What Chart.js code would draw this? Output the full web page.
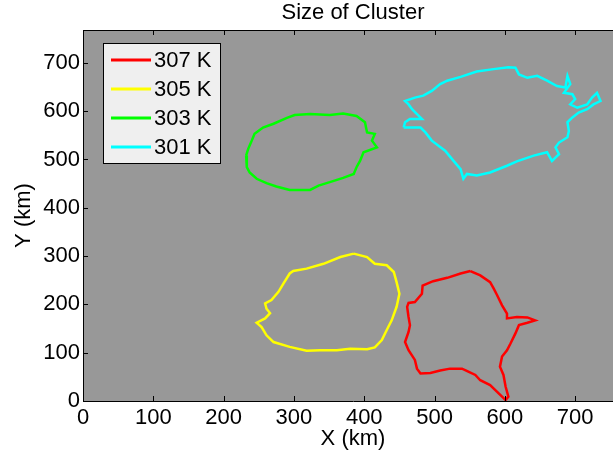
<!DOCTYPE html>
<html>
<head>
<meta charset="utf-8">
<title>Size of Cluster</title>
<script src="https://cdn.jsdelivr.net/npm/chart.js@4"></script>
<style>
  body { margin: 0; overflow: hidden; background: #fff; }
  canvas { display: block; }
</style>
</head>
<body>
<canvas id="clusterChart" width="640" height="461"></canvas>
<script>
// cluster outlines (km), one closed contour per temperature threshold
const seriesLabels = ['307 K', '305 K', '303 K', '301 K'];
const seriesColors = ['#ff0000', '#ffff00', '#00ff00', '#00ffff'];
const tickValues = [0, 100, 200, 300, 400, 500, 600, 700];
const chartTitle = 'Size of Cluster';

const x307 = [551, 565, 579, 584, 589, 596, 603, 603, 617, 632, 643, 632, 620, 615, 608, 603, 596, 593, 598, 601,
              605, 601, 596, 589, 579, 565, 558, 548, 539, 522, 508, 494, 480, 475, 472, 463, 458, 463, 465, 463,
              461, 463, 472, 482, 483, 498, 518, 537];
const y307 = [269, 260, 246, 233, 219, 198, 181, 171, 174, 173, 167, 162, 157, 140, 119, 105, 92, 71, 54, 30,
              9, 2, 9, 19, 33, 43, 54, 61, 67, 67, 63, 58, 57, 67, 85, 105, 122, 143, 157, 174,
              195, 203, 205, 222, 239, 248, 255, 264];

const x305 = [385, 404, 415, 432, 442, 446, 450, 446, 439, 432, 425, 415, 404, 380, 361, 337, 318, 294, 271, 261,
              254, 247, 259, 266, 261, 259, 268, 278, 285, 294, 299, 318, 342, 366];
const y305 = [305, 298, 284, 281, 267, 246, 222, 195, 167, 147, 126, 111, 107, 108, 105, 105, 104, 112, 122, 136,
              153, 162, 171, 182, 191, 202, 209, 226, 243, 264, 269, 274, 284, 298];

const x303 = [232, 233, 237, 247, 261, 275, 294, 323, 335, 351, 370, 385, 389, 394, 399, 418, 411, 415, 404, 401,
              389, 370, 351, 323, 301, 290, 271, 256, 244, 240, 235];
const y303 = [508, 484, 473, 460, 451, 444, 437, 437, 446, 453, 462, 470, 484, 497, 515, 525, 539, 553, 556, 577,
              590, 595, 592, 594, 592, 586, 574, 566, 553, 539, 522];

const x301 = [456, 458, 465, 482, 475, 468, 463, 458, 472, 484, 496, 508, 518, 537, 560, 584, 605, 615, 620, 632,
              646, 660, 674, 686, 689, 693, 684, 696, 700, 693, 703, 717, 724, 731, 736, 726, 717, 705, 696, 689,
              691, 689, 677, 672, 677, 667, 660, 641, 617, 603, 579, 560, 546, 541, 537, 527, 515, 496, 487, 480,
              465];
const y301 = [566, 577, 584, 584, 594, 604, 614, 621, 628, 632, 642, 656, 663, 671, 682, 687, 691, 690, 676, 669,
              673, 663, 652, 649, 673, 656, 638, 635, 625, 614, 607, 614, 628, 638, 621, 614, 604, 597, 587, 577,
              559, 546, 535, 525, 511, 497, 515, 508, 496, 487, 473, 467, 470, 460, 480, 497, 518, 539, 556, 566,
              566];

const FONT = '"Liberation Sans", Helvetica, Arial, sans-serif';

// pair up x/y and close the loop
function contour(xs, ys) {
    const pts = xs.map((x, i) => ({ x: x, y: ys[i] }));
    pts.push({ x: xs[0], y: ys[0] });
    return pts;
}

const outlines = [[x307, y307], [x305, y305], [x303, y303], [x301, y301]];

const datasets = outlines.map((o, i) => ({
    label: seriesLabels[i],
    data: contour(o[0], o[1]),
    showLine: true,
    borderColor: seriesColors[i],
    borderWidth: 2.5,
    pointRadius: 0,
    tension: 0
}));

// gray axes background
const plotBackground = {
    id: 'plotBackground',
    beforeDraw(chart) {
        const { ctx, chartArea: a } = chart;
        ctx.save();
        ctx.fillStyle = '#989898';
        ctx.fillRect(a.left, a.top, a.right - a.left, a.bottom - a.top);
        ctx.restore();
    }
};

// top frame line and inward tick marks
const innerTicks = {
    id: 'innerTicks',
    afterDatasetsDraw(chart) {
        const { ctx, chartArea: a, scales } = chart;
        ctx.save();
        ctx.strokeStyle = '#000';
        ctx.lineWidth = 1;
        ctx.beginPath();
        ctx.moveTo(a.left, Math.round(a.top) + 0.5);
        ctx.lineTo(a.right, Math.round(a.top) + 0.5);
        ctx.moveTo(Math.round(a.right) - 0.5, a.top);
        ctx.lineTo(Math.round(a.right) - 0.5, a.bottom);
        scales.x.ticks.forEach(t => {
            const px = Math.round(scales.x.getPixelForValue(t.value)) + 0.5;
            ctx.moveTo(px, a.bottom);
            ctx.lineTo(px, a.bottom - 5);
            ctx.moveTo(px, a.top);
            ctx.lineTo(px, a.top + 5);
        });
        scales.y.ticks.forEach(t => {
            const py = Math.round(scales.y.getPixelForValue(t.value)) + 0.5;
            ctx.moveTo(a.left, py);
            ctx.lineTo(a.left + 5, py);
            ctx.moveTo(a.right, py);
            ctx.lineTo(a.right - 5, py);
        });
        ctx.stroke();
        ctx.restore();
    }
};

// legend box in the upper left corner of the axes
const legendBox = {
    id: 'legendBox',
    afterDraw(chart) {
        const { ctx, chartArea: a } = chart;
        const x0 = Math.round(a.left) + 20, y0 = Math.round(a.top) + 13;
        const w = 117, h = 120;
        ctx.save();
        ctx.fillStyle = '#efefef';
        ctx.fillRect(x0, y0, w, h);
        ctx.strokeStyle = '#000';
        ctx.lineWidth = 1;
        ctx.strokeRect(x0 + 0.5, y0 + 0.5, w, h);
        ctx.font = '22px ' + FONT;
        ctx.textBaseline = 'middle';
        chart.data.datasets.forEach((ds, i) => {
            const y = y0 + 17 + i * 29;
            ctx.strokeStyle = ds.borderColor;
            ctx.lineWidth = 3;
            ctx.beginPath();
            ctx.moveTo(x0 + 8, y);
            ctx.lineTo(x0 + 48, y);
            ctx.stroke();
            ctx.fillStyle = '#000';
            ctx.fillText(ds.label, x0 + 51, y + 1);
        });
        ctx.restore();
    }
};

// title centred over the axes
const axesTitle = {
    id: 'axesTitle',
    afterDraw(chart) {
        const { ctx, chartArea: a } = chart;
        ctx.save();
        ctx.font = '22px ' + FONT;
        ctx.fillStyle = '#000';
        ctx.textAlign = 'center';
        ctx.textBaseline = 'alphabetic';
        ctx.fillText(chartTitle, (a.left + a.right) / 2, 19);
        ctx.restore();
    }
};

const ctx = document.getElementById('clusterChart').getContext('2d');
new Chart(ctx, {
    type: 'scatter',
    data: { datasets: datasets },
    options: {
        responsive: false,
        animation: false,
        devicePixelRatio: 1,
        layout: { padding: { top: 30, right: 17, bottom: 0, left: 0 } },
        plugins: {
            legend: { display: false },
            tooltip: { enabled: false },
            title: { display: false }
        },
        scales: {
            x: {
                type: 'linear',
                min: 0,
                max: 768,
                afterFit(scale) { scale.height = 60; },
                afterBuildTicks(scale) { scale.ticks = tickValues.map(v => ({ value: v })); },
                grid: { display: false, drawTicks: false },
                border: { display: true, color: '#000', width: 1 },
                ticks: { color: '#000', padding: 4, font: { family: FONT, size: 22 }, maxRotation: 0 },
                title: { display: true, text: 'X (km)', color: '#000', padding: { top: 0, bottom: 9 },
                         font: { family: FONT, size: 22 } }
            },
            y: {
                type: 'linear',
                min: 0,
                max: 768,
                afterFit(scale) { scale.width = 83; },
                afterBuildTicks(scale) { scale.ticks = tickValues.map(v => ({ value: v })); },
                grid: { display: false, drawTicks: false },
                border: { display: true, color: '#000', width: 1 },
                ticks: { color: '#000', padding: 3, font: { family: FONT, size: 22 } },
                title: { display: true, text: 'Y (km)', color: '#000', padding: { top: 11, bottom: 0 },
                         font: { family: FONT, size: 22 } }
            }
        }
    },
    plugins: [plotBackground, innerTicks, legendBox, axesTitle]
});
</script>
</body>
</html>
